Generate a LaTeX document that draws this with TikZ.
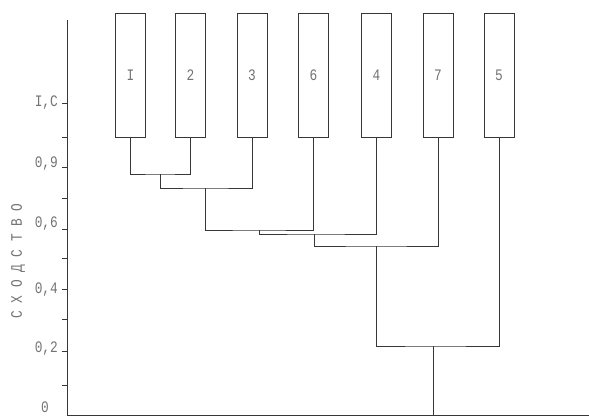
\documentclass[tikz,border=0pt]{standalone}
\usepackage{fontspec}
\setmonofont{Liberation Mono}
\newfontfamily\typefont[FakeStretch=0.8]{Liberation Mono}
\usepackage{xcolor}
\usetikzlibrary{positioning, calc}
\definecolor{cLine}{RGB}{55,55,55}
\definecolor{cText}{RGB}{115,115,115}
\tikzset{
	leaf/.style     ={rectangle, draw=cLine, line width=1pt, minimum width=30pt, minimum height=124pt, inner sep=0pt, text=cText, font=\typefont\fontsize{16}{18}\selectfont},
	branch/.style   ={draw=cLine, line width=1pt},
	% axis styles
	axisline/.style ={draw=cLine, line width=1pt},
	ticklbl/.style  ={text=cText, anchor=east, inner sep=0pt, font=\typefont\fontsize{16}{18}\selectfont},
}
\begin{document}
\begin{tikzpicture}[x=1pt, y=-1pt]
	\useasboundingbox (0,0) rectangle (589,418);
	% axis
	\draw[axisline] (67,20) -- (67,415) -- (589,415);
	\foreach \ty in {103,137,167,198,229,258,289,319,351,385}
		\draw[axisline] (62,\ty) -- (67,\ty);
	\node[ticklbl] at (58,103) {I,C};
	\node[ticklbl] at (58,164) {0,9};
	\node[ticklbl] at (58,224) {0,6};
	\node[ticklbl] at (58,290) {0,4};
	\node[ticklbl] at (58,349) {0,2};
	\node[ticklbl] at (49,407) {0};
	\node[rotate=90, text=cText, font=\typefont\fontsize{16}{18}\selectfont] (ylbl) at (18,261) {С Х О Д С Т В О};
	% samples
	\node[leaf] (n1) at (130.5,75) {I};
	\node[leaf] (n2) at (190.5,75) {2};
	\node[leaf] (n3) at (252,75) {3};
	\node[leaf] (n6) at (313.5,75) {6};
	\node[leaf] (n4) at (376.5,75) {4};
	\node[leaf] (n7) at (438,75) {7};
	\node[leaf] (n5) at (499,75) {5};
	% merge points
	\coordinate (c12) at (160,174);
	\coordinate (c123) at (205,188);
	\coordinate (c1236) at (259,230);
	\coordinate (c12364) at (314,234);
	\coordinate (c123647) at (376,246);
	\coordinate (croot) at (433,346);
	\coordinate (base) at (433,415);
	\draw[branch] (n1.south) |- (c12) -| (n2.south);
	\draw[branch] (c12) |- (c123) -| (n3.south);
	\draw[branch] (c123) |- (c1236) -| (n6.south);
	\draw[branch] (c1236) |- (c12364) -| (n4.south);
	\draw[branch] (c12364) |- (c123647) -| (n7.south);
	\draw[branch] (c123647) |- (croot) -| (n5.south);
	\draw[branch] (croot) -- (base);
\end{tikzpicture}
\end{document}
